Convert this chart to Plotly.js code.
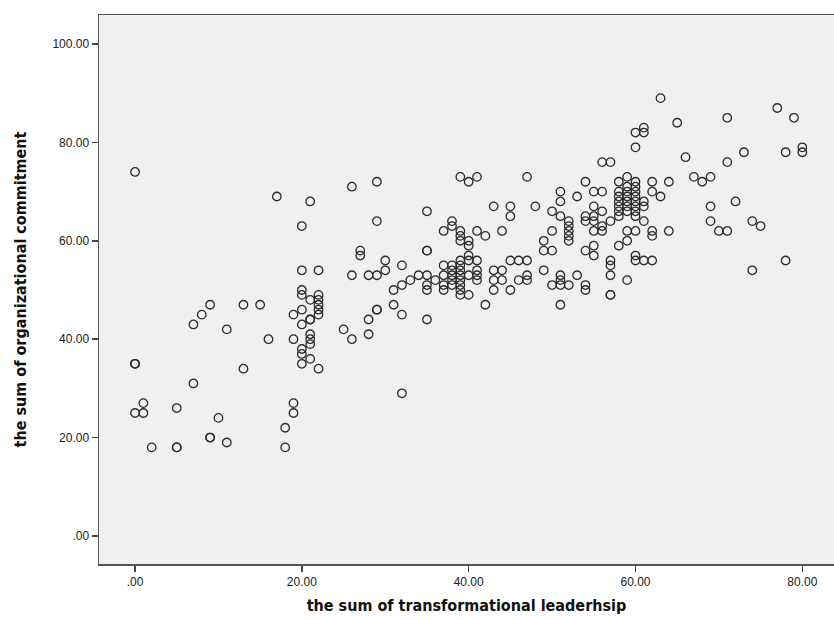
<!DOCTYPE html>
<html>
<head>
<meta charset="utf-8">
<script src="https://cdn.plot.ly/plotly-3.0.1.min.js"></script>
<style>html,body{margin:0;padding:0;background:#fff;}#chart{width:834px;height:620px;}</style>
</head>
<body>
<div id="chart"></div>
<script>
// transformational leadership sum (x) and organizational commitment sum (y)
const leadership = [
  0,0,0,0,1,1,2,5,5,5,7,7,8,9,9,9,10,11,11,13,13,15,16,17,18,18,19,19,19,19,
  20,20,20,20,20,20,20,20,20,
  21,21,21,21,21,21,21,21,
  22,22,22,22,22,22,22,
  25,26,26,26,27,27,28,28,28,29,29,29,29,29,30,30,31,31,32,32,32,32,33,34,35,35,35,35,35,35,35,36,
  37,37,37,37,37,
  38,38,38,38,38,38,38,
  39,39,39,39,39,39,39,39,39,39,39,39,
  40,40,40,40,40,40,40,
  41,41,41,41,41,41,
  42,42,
  43,43,43,43,
  44,44,44,
  45,45,45,45,
  46,46,
  47,47,47,47,
  48,
  49,49,49,
  50,50,50,50,
  51,51,51,51,51,51,51,
  52,52,52,52,52,52,
  53,53,
  54,54,54,54,54,54,
  55,55,55,55,55,55,55,
  56,56,56,56,56,
  57,57,57,57,57,57,57,
  58,58,58,58,58,58,58,58,
  59,59,59,59,59,59,59,59,59,59,
  60,60,60,60,60,60,60,60,60,60,60,60,60,
  61,61,61,61,61,61,
  62,62,62,62,62,
  63,63,
  64,64,
  65,66,67,68,69,69,69,70,71,71,71,72,73,74,74,75,77,78,78,79,80,80
];
const commitment = [
  74,35,35,25,27,25,18,26,18,18,43,31,45,47,20,20,24,42,19,47,34,47,40,69,22,18,45,40,27,25,
  63,54,50,49,46,43,38,37,35,
  68,48,44,44,41,40,39,36,
  54,49,48,47,46,45,34,
  42,71,53,40,58,57,53,44,41,72,64,53,46,46,56,54,50,47,55,51,45,29,52,53,66,58,58,53,51,50,44,52,
  62,55,53,51,50,
  64,63,55,54,53,52,51,
  73,62,61,60,56,55,54,53,52,51,50,49,
  72,60,59,57,56,53,49,
  73,62,56,54,53,52,
  61,47,
  67,54,52,50,
  62,54,52,
  67,65,56,50,
  56,52,
  73,56,53,52,
  67,
  60,58,54,
  66,62,58,51,
  70,68,65,53,52,51,47,
  64,63,62,61,60,51,
  69,53,
  72,65,64,58,51,50,
  70,67,65,64,62,59,57,
  76,70,66,63,62,
  76,64,56,55,53,49,49,
  72,70,69,68,67,66,65,59,
  73,71,70,69,68,67,66,62,60,52,
  82,79,72,71,70,69,68,67,66,65,62,57,56,
  83,82,68,67,64,56,
  72,70,62,61,56,
  89,69,
  72,62,
  84,77,73,72,73,67,64,62,85,76,62,68,78,64,54,63,87,78,56,85,79,78
];

const xTickVals = [0, 20, 40, 60, 80];
const xTickText = ['.00', '20.00', '40.00', '60.00', '80.00'];
const yTickVals = [0, 20, 40, 60, 80, 100];
const yTickText = ['.00', '20.00', '40.00', '60.00', '80.00', '100.00'];

const trace = {
  x: leadership,
  y: commitment,
  type: 'scatter',
  mode: 'markers',
  marker: {
    symbol: 'circle-open',
    size: 8.5,
    color: '#2a2a2a',
    line: {width: 1.3, color: '#2a2a2a'}
  },
  hoverinfo: 'x+y'
};

const titleFont = {family: 'DejaVu Sans Condensed, DejaVu Sans, sans-serif', size: 16, color: '#111'};

const layout = {
  width: 834,
  height: 620,
  margin: {l: 99, r: 0, t: 15, b: 56},
  paper_bgcolor: '#ffffff',
  plot_bgcolor: '#f0f0f0',
  showlegend: false,
  font: {family: 'Liberation Sans, Arial, sans-serif', size: 12, color: '#222'},
  xaxis: {
    range: [-4.32, 83.8],
    tickvals: xTickVals,
    ticktext: xTickText,
    ticks: 'outside',
    ticklen: 6,
    tickwidth: 1.5,
    tickcolor: '#444',
    showgrid: false,
    zeroline: false,
    showline: true,
    linecolor: '#555',
    linewidth: 1.5,
    mirror: true,
    tickfont: {size: 12, color: '#222'},
    title: {text: '<b>the sum of transformational leaderhsip</b>', font: titleFont, standoff: 12}
  },
  yaxis: {
    range: [-5.7, 105.9],
    tickvals: yTickVals,
    ticktext: yTickText,
    ticks: 'outside',
    ticklen: 6,
    tickwidth: 1.5,
    tickcolor: '#444',
    showgrid: false,
    zeroline: false,
    showline: true,
    linecolor: '#555',
    linewidth: 1.5,
    mirror: false,
    tickfont: {size: 12, color: '#222'},
    title: {text: '<b>the sum of organizational commitment</b>', font: titleFont, standoff: 22}
  }
};

Plotly.newPlot('chart', [trace], layout, {displayModeBar: false, staticPlot: true});
</script>
</body>
</html>
